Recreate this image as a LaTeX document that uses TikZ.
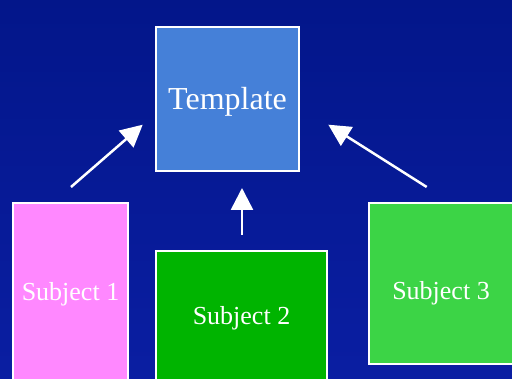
\documentclass[tikz,border=0pt]{standalone}
\usepackage{fontspec}
\setmainfont{Liberation Serif}
\usepackage{tikz}
\usetikzlibrary{arrows.meta}
\definecolor{BgTop}{HTML}{03168A}
\definecolor{BgBot}{HTML}{0A1EA2}
\definecolor{TplBlue}{HTML}{4580D8}
\definecolor{SubPink}{HTML}{FF88FF}
\definecolor{SubGreen}{HTML}{00B400}
\definecolor{SubLime}{HTML}{3CD446}

\tikzset{
  box/.style = {draw = white, line width = 2pt, inner sep = 0pt, text = white},
  up/.style = {-{Triangle[width=22pt, length=22pt]}, line width = 2.5pt, draw = white}
}

\begin{document}
\begin{tikzpicture}[x=1pt, y=1pt]
  % background
\useasboundingbox (0,0) rectangle (512,379);
\clip (0,0) rectangle (512,379);
\shade[top color = BgTop, bottom color = BgBot] (0,0) rectangle (512,379);

  % boxes
\node[box, fill = TplBlue, minimum width = 143pt, minimum height = 144pt, text height = 28pt, font = \fontsize{32}{36}\selectfont]
  (tpl) at (227.5,280) {Template};
\node[box, fill = SubPink, minimum width = 115pt, minimum height = 179pt, text height = 22pt, font = \fontsize{26}{30}\selectfont]
  (s1) at (70.5,86.5) {Subject 1};
\node[box, fill = SubGreen, minimum width = 171pt, minimum height = 130pt, text height = 22pt, font = \fontsize{26}{30}\selectfont]
  (s2) at (241.5,63) {Subject 2};
\node[box, fill = SubLime, minimum width = 144pt, minimum height = 161pt, text height = 38pt, font = \fontsize{26}{30}\selectfont]
  (s3) at (441,95.5) {Subject 3};

  % arrows
\coordinate (a1) at (71,192);   \coordinate (t1) at (142.7,254.3);
\coordinate (a2) at (242,144);  \coordinate (t2) at (242,191);
\coordinate (a3) at (426.7,192); \coordinate (t3) at (328.3,254.3);
\draw[up] (a1) -- (t1);
\draw[up] (a2) -- (t2);
\draw[up] (a3) -- (t3);

\end{tikzpicture}
\end{document}
